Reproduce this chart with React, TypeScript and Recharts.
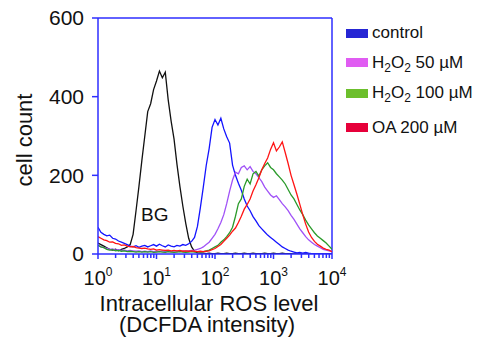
import React from 'react';
import { LineChart, Line, XAxis, YAxis, ReferenceLine, ReferenceDot, Label } from 'recharts';

// log10 of DCFDA intensity (x position of each histogram channel)
const logIntensity = [
  0, 0.05, 0.1, 0.15, 0.2, 0.25, 0.3, 0.35, 0.4, 0.45,
  0.5, 0.55, 0.6, 0.65, 0.7, 0.75, 0.8, 0.85, 0.9, 0.95,
  1, 1.05, 1.1, 1.15, 1.2, 1.25, 1.3, 1.35, 1.4, 1.45,
  1.5, 1.55, 1.6, 1.65, 1.7, 1.75, 1.8, 1.85, 1.9, 1.95,
  2, 2.05, 2.1, 2.15, 2.2, 2.25, 2.3, 2.35, 2.4, 2.45,
  2.5, 2.55, 2.6, 2.65, 2.7, 2.75, 2.8, 2.85, 2.9, 2.95,
  3, 3.05, 3.1, 3.15, 3.2, 3.25, 3.3, 3.35, 3.4, 3.45,
  3.5, 3.55, 3.6, 3.65, 3.7, 3.75, 3.8, 3.85, 3.9, 3.95,
  4,
];

const bgCounts = [
  28, 24, 20, 16, 12, 10, 12, 8, 12, 14,
  18, 24, 50, 110, 172, 238, 300, 362, 382, 418,
  440, 465, 448, 462, 392, 338, 292, 228, 172, 122,
  78, 40, 18, 7, 3, 2, 2, 1, 2, 1,
  1, 2, 1, 1, 2, 1, 1, 2, 1, 1,
  2, 1, 1, 2, 1, 1, 1, 2, 1, 1,
  2, 1, 1, 2, 1, 1, 1, 0, 0, 0,
  0, 0, 0, 0, 0, 0, 0, 0, 0, 0,
  0,
];

const controlCounts = [
  68, 55, 50, 46, 48, 40, 38, 33, 30, 27,
  24, 20, 18, 21, 17, 20, 22, 18, 21, 24,
  20, 25, 21, 18, 23, 20, 18, 22, 20, 24,
  22, 26, 32, 42, 70, 118, 170, 225, 268, 322,
  342, 328, 345, 318, 298, 282, 226, 200, 180, 162,
  140, 122, 110, 95, 84, 72, 64, 56, 48, 42,
  36, 30, 24, 18, 14, 10, 7, 5, 3, 4,
  2, 4, 2, 1, 1, 0, 0, 0, 0, 0,
  0,
];

const h2o2_50Counts = [
  22, 18, 16, 14, 12, 13, 10, 11, 9, 10,
  8, 9, 8, 7, 8, 6, 7, 6, 8, 6,
  7, 6, 8, 6, 7, 6, 8, 7, 6, 8,
  7, 8, 9, 10, 12, 14, 18, 24, 30, 40,
  50, 64, 80, 100, 128, 160, 188, 208, 204, 220,
  224, 214, 222, 210, 204, 194, 184, 170, 160, 150,
  144, 148, 138, 128, 120, 110, 98, 88, 76, 64,
  54, 44, 36, 30, 24, 20, 16, 12, 10, 8,
  6,
];

const h2o2_100Counts = [
  22, 18, 16, 12, 10, 11, 8, 9, 7, 8,
  6, 7, 6, 5, 6, 5, 6, 5, 6, 4,
  5, 6, 5, 4, 6, 5, 4, 5, 6, 5,
  4, 5, 6, 5, 6, 5, 6, 8, 10, 14,
  18, 22, 30, 36, 44, 54, 68, 96, 128, 140,
  172, 190, 178, 204, 210, 198, 214, 224, 232, 220,
  214, 204, 196, 188, 178, 164, 150, 140, 126, 112,
  100, 86, 74, 64, 54, 46, 40, 34, 28, 20,
  12,
];

const oa200Counts = [
  44, 40, 36, 34, 30, 31, 27, 26, 22, 23,
  20, 18, 19, 16, 15, 14, 15, 13, 12, 13,
  10, 11, 10, 9, 10, 8, 9, 8, 9, 7,
  8, 7, 8, 7, 6, 7, 6, 7, 8, 11,
  14, 19, 24, 32, 40, 48, 58, 66, 80, 96,
  114, 126, 140, 160, 176, 194, 214, 230, 244, 266,
  283, 262, 272, 285, 258, 230, 200, 176, 152, 126,
  100, 76, 56, 42, 32, 25, 20, 15, 12, 10,
  6,
];

const countTicks = [0, 200, 400, 600];
const decades = [0, 1, 2, 3, 4];
const minorMultipliers = [2, 3, 4, 5, 6, 7, 8, 9];

const legendLabels = [
  { key: 'control', color: '#2626d4', parts: ['control'] },
  { key: 'h50', color: '#e05cf2', parts: ['H', '2', 'O', '2', ' 50 µM'] },
  { key: 'h100', color: '#6cbf2c', parts: ['H', '2', 'O', '2', ' 100 µM'] },
  { key: 'oa', color: '#e6003a', parts: ['OA 200 µM'] },
];

const data = logIntensity.map((x, i) => ({
  x,
  bg: bgCounts[i],
  control: controlCounts[i],
  h50: h2o2_50Counts[i],
  h100: h2o2_100Counts[i],
  oa: oa200Counts[i],
}));

const AXIS_BLUE = '#2e2eff';
const FONT = '"Liberation Sans", Arial, Helvetica, sans-serif';

const xTicks = [
  ...decades,
  ...decades.slice(0, -1).flatMap((n) => minorMultipliers.map((k) => n + Math.log10(k))),
].sort((a, b) => a - b);

const XTick = (props: any) => {
  const { x, y, payload } = props;
  const v = payload.value;
  const major = Number.isInteger(v);
  return (
    <g>
      <line x1={x} x2={x} y1={y} y2={y + (major ? 5 : 4)} stroke={AXIS_BLUE} strokeWidth={1.5} />
      {major && (
        <text x={x} y={y + 31} textAnchor="middle" fontSize={20} fontFamily={FONT} fill="#111">
          <tspan>10</tspan>
          <tspan fontSize={12} dy={-9}>{v}</tspan>
        </text>
      )}
    </g>
  );
};

const LegendLabel = ({ parts }: { parts: string[] }) => (
  <span>
    {parts.map((p, i) =>
      p === '2' ? (
        <sub key={i} style={{ fontSize: 12, verticalAlign: 'baseline', position: 'relative', top: 4 }}>{p}</sub>
      ) : (
        <span key={i}>{p}</span>
      )
    )}
  </span>
);

const legendTops = [33, 62.5, 93, 127.5];

export default function App() {
  return (
    <div style={{ position: 'absolute', left: 0, top: 0, width: 481, height: 345, background: '#fff', fontFamily: FONT }}>
      <LineChart width={481} height={345} data={data} margin={{ top: 18, right: 149, bottom: 0, left: 0 }}>
        <XAxis
          type="number"
          dataKey="x"
          domain={[0, 4]}
          ticks={xTicks}
          interval={0}
          height={91}
          tickLine={false}
          tickSize={0}
          tickMargin={0}
          tick={<XTick />}
          axisLine={{ stroke: AXIS_BLUE, strokeWidth: 1.5 }}
          allowDataOverflow
        >
          <Label
            content={() => (
              <text textAnchor="middle" fontSize={22} fontFamily={FONT} fill="#111">
                <tspan x={209} y={311}>Intracellular ROS level</tspan>
                <tspan x={207} y={331.5}>(DCFDA intensity)</tspan>
              </text>
            )}
          />
        </XAxis>
        <YAxis
          type="number"
          domain={[0, 600]}
          ticks={countTicks}
          interval={0}
          width={98}
          tickSize={6}
          tickMargin={8}
          tick={{ fill: '#111', fontSize: 21, fontFamily: FONT }}
          axisLine={{ stroke: AXIS_BLUE, strokeWidth: 1.5 }}
          tickLine={{ stroke: AXIS_BLUE, strokeWidth: 1.5 }}
          allowDataOverflow
        >
          <Label
            content={() => (
              <text
                x={32}
                y={140}
                transform="rotate(-90 32 140)"
                textAnchor="middle"
                fontSize={22}
                fontFamily={FONT}
                fill="#111"
              >
                cell count
              </text>
            )}
          />
        </YAxis>
        <ReferenceLine y={600} stroke={AXIS_BLUE} strokeWidth={1.5} />
        <ReferenceLine x={4} stroke={AXIS_BLUE} strokeWidth={1.5} />
        <Line type="linear" dataKey="bg" stroke="#111111" strokeWidth={1.3} dot={false} isAnimationActive={false} />
        <Line type="linear" dataKey="control" stroke="#1414ff" strokeWidth={1.3} dot={false} isAnimationActive={false} />
        <Line type="linear" dataKey="h50" stroke="#a052f7" strokeWidth={1.3} dot={false} isAnimationActive={false} />
        <Line type="linear" dataKey="h100" stroke="#2a9a2a" strokeWidth={1.3} dot={false} isAnimationActive={false} />
        <Line type="linear" dataKey="oa" stroke="#ff1414" strokeWidth={1.3} dot={false} isAnimationActive={false} />
        <ReferenceDot
          x={0.97}
          y={100}
          r={0}
          fill="none"
          stroke="none"
          label={{ value: 'BG', position: 'center', fontSize: 19, fontFamily: FONT, fill: '#111' }}
        />
      </LineChart>
      {legendLabels.map((item, i) => (
        <div
          key={item.key}
          style={{
            position: 'absolute',
            left: 346,
            top: legendTops[i] - 10,
            height: 20,
            display: 'flex',
            alignItems: 'center',
            fontSize: 17,
            color: '#111',
            whiteSpace: 'nowrap',
          }}
        >
          <div style={{ width: 22, height: 9, background: item.color, marginRight: 4 }} />
          <LegendLabel parts={item.parts} />
        </div>
      ))}
    </div>
  );
}
